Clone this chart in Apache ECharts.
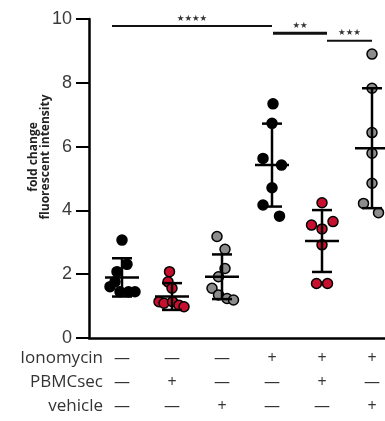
<!DOCTYPE html>
<html>
<head>
<meta charset="utf-8">
<script src="https://cdn.jsdelivr.net/npm/echarts@6/dist/echarts.min.js"></script>
<style>html,body{margin:0;padding:0;background:#fff;}#c{width:385px;height:421px;}</style>
</head>
<body>
<div id="c"></div>
<script>
// ---- data ----
const groupIndex = [1, 2, 3, 4, 5, 6];
const rowLabels = ['Ionomycin', 'PBMCsec', 'vehicle'];
const ionomycinRow = ['—', '—', '—', '+', '+', '+'];
const pbmcsecRow = ['—', '+', '—', '—', '+', '—'];
const vehicleRow = ['—', '—', '+', '—', '—', '+'];
const yTicks = [0, 2, 4, 6, 8, 10];
const yTitle = ['fold change', 'fluorescent intensity'];

const g1Values = [3.07, 2.31, 2.08, 1.76, 1.61, 1.45, 1.45, 1.45];
const g1Jitter = [0.0, 0.10, -0.10, -0.14, -0.24, -0.04, 0.13, 0.26];
const g2Values = [2.08, 1.76, 1.56, 1.14, 1.09, 1.14, 1.03, 0.98];
const g2Jitter = [-0.05, -0.08, 0.0, -0.26, -0.16, 0.01, 0.14, 0.24];
const g3Values = [3.18, 2.78, 2.18, 1.92, 1.56, 1.35, 1.24, 1.19];
const g3Jitter = [-0.10, 0.06, 0.06, -0.07, -0.20, -0.07, 0.10, 0.23];
const g4Values = [7.34, 6.73, 5.63, 5.42, 4.71, 4.17, 3.82];
const g4Jitter = [0.02, 0.0, -0.18, 0.19, 0.0, -0.18, 0.15];
const g5Values = [4.24, 3.54, 3.65, 3.42, 2.92, 1.71, 1.71];
const g5Jitter = [0.0, -0.21, 0.22, 0.0, 0.0, -0.11, 0.11];
const g6Values = [8.90, 7.83, 6.44, 5.79, 4.85, 4.22, 3.93];
const g6Jitter = [0.0, 0.0, 0.0, 0.0, 0.0, -0.17, 0.13];

const groupMeans = [1.90, 1.30, 1.92, 5.42, 3.04, 5.95];
const groupSDs = [0.60, 0.42, 0.70, 1.30, 0.97, 1.88];

const sigLabels = ['★★★★', '★★', '★★★'];
const sigFrom = [0.8, 4.02, 5.1];
const sigTo = [4.0, 5.1, 6.0];
const sigLevel = [9.78, 9.55, 9.32];

// ---- build ----
const groupsValues = [g1Values, g2Values, g3Values, g4Values, g5Values, g6Values];
const groupsJitter = [g1Jitter, g2Jitter, g3Jitter, g4Jitter, g5Jitter, g6Jitter];
const fills = ['#000000', '#c8102e', '#8c8c8c', '#000000', '#c8102e', '#8c8c8c'];

const scatterSeries = groupsValues.map((vals, gi) => ({
  type: 'scatter',
  z: 2,
  symbol: 'circle',
  symbolSize: 10,
  itemStyle: { color: fills[gi], borderColor: '#000', borderWidth: 1.5, opacity: 1 },
  data: vals.map((v, i) => [groupIndex[gi] + groupsJitter[gi][i], v])
}));

const errData = groupIndex.map((k, i) => [k, groupMeans[i], groupSDs[i]]);

const chart = echarts.init(document.getElementById('c'));
const option = {
  animation: false,
  backgroundColor: '#fff',
  grid: { left: 89, top: 19, bottom: 83, right: 0 },
  xAxis: {
    type: 'value', min: 0.34, max: 6.26,
    axisLine: { show: true, lineStyle: { color: '#000', width: 2.5 } },
    axisTick: { show: false }, axisLabel: { show: false }, splitLine: { show: false }
  },
  yAxis: {
    type: 'value', min: yTicks[0], max: yTicks[yTicks.length - 1], interval: 2,
    axisLine: { show: true, lineStyle: { color: '#000', width: 2.5 } },
    axisTick: { show: true, inside: false, length: 13, lineStyle: { color: '#000', width: 2 } },
    axisLabel: { margin: 17, fontSize: 18, color: '#3a3a3a', fontFamily: 'Liberation Sans' },
    splitLine: { show: false }
  },
  series: [
    ...scatterSeries,
    {
      type: 'custom', z: 5, clip: false,
      data: errData,
      renderItem: function (params, api) {
        const k = api.value(0), m = api.value(1), s = api.value(2);
        const top = api.coord([k, m + s]);
        const bot = api.coord([k, m - s]);
        const mid = api.coord([k, m]);
        const st = { stroke: '#000', lineWidth: 2.5 };
        return {
          type: 'group',
          children: [
            { type: 'line', shape: { x1: top[0], y1: top[1], x2: bot[0], y2: bot[1] }, style: st },
            { type: 'line', shape: { x1: top[0] - 10, y1: top[1], x2: top[0] + 10, y2: top[1] }, style: st },
            { type: 'line', shape: { x1: bot[0] - 10, y1: bot[1], x2: bot[0] + 10, y2: bot[1] }, style: st },
            { type: 'line', shape: { x1: mid[0] - 17, y1: mid[1], x2: mid[0] + 17, y2: mid[1] }, style: st }
          ]
        };
      }
    },
    {
      type: 'custom', z: 5, clip: false,
      data: sigLabels.map((l, i) => [sigFrom[i], sigTo[i], sigLevel[i], i]),
      renderItem: function (params, api) {
        const a = api.coord([api.value(0), api.value(2)]);
        const b = api.coord([api.value(1), api.value(2)]);
        const idx = api.value(3);
        return {
          type: 'group',
          children: [
            { type: 'line', shape: { x1: a[0], y1: a[1], x2: b[0], y2: b[1] }, style: { stroke: '#111', lineWidth: idx === 1 ? 3 : 2 } },
            { type: 'text', x: (a[0] + b[0]) / 2, y: a[1] - 3,
              style: { text: sigLabels[idx], textAlign: 'center', textVerticalAlign: 'bottom', fontSize: 8.5, fill: '#333', fontFamily: 'DejaVu Sans' } }
          ]
        };
      }
    }
  ]
};
chart.setOption(option);

// table + axis title
const graphics = [];
graphics.push({
  type: 'text', x: 40, y: 157, rotation: Math.PI / 2,
  style: { text: yTitle.join('\n'), textAlign: 'center', textVerticalAlign: 'middle', fontSize: 12, fontWeight: 'bold', lineHeight: 12, fill: '#222', fontFamily: 'Open Sans' }
});
const rows = [ionomycinRow, pbmcsecRow, vehicleRow];
const rowY = [358, 382, 406];
rows.forEach((row, ri) => {
  graphics.push({ type: 'text', x: 103, y: rowY[ri],
    style: { text: rowLabels[ri], textAlign: 'right', textVerticalAlign: 'middle', fontSize: 17, fill: '#333', fontFamily: 'Open Sans' } });
  row.forEach((sym, ci) => {
    const px = chart.convertToPixel({ xAxisIndex: 0 }, groupIndex[ci]);
    graphics.push({ type: 'text', x: px, y: rowY[ri],
      style: { text: sym, textAlign: 'center', textVerticalAlign: 'middle', fontSize: 16, fill: '#333', fontFamily: 'Open Sans' } });
  });
});
chart.setOption({ graphic: graphics });
</script>
</body>
</html>
